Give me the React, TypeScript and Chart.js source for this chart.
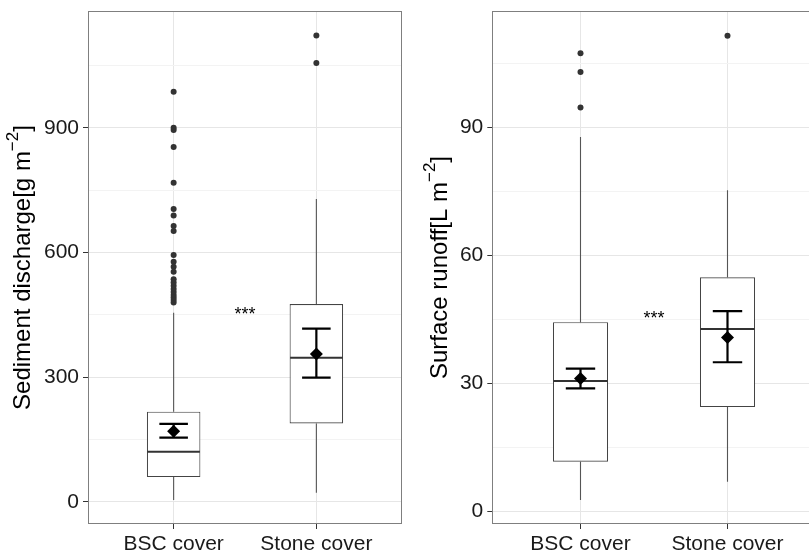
import React, { useEffect, useRef } from "react";
import { Chart, registerables } from "chart.js";

Chart.register(...registerables);

const FONT = "'Liberation Sans', Arial, Helvetica, sans-serif";

const categories = ["BSC cover", "Stone cover"];
const categoryPositions = [1, 2];

// Panel 1: sediment discharge
const sedLowerWhisker = [5, 22];
const sedQ1 = [60, 189];
const sedMedian = [121, 347];
const sedQ3 = [217, 476];
const sedUpperWhisker = [455, 729];
const sedMean = [170, 356];
const sedErrLow = [155, 299];
const sedErrHigh = [188, 417];
const sedOutliersBSC = [480, 486, 492, 498, 505, 512, 520, 528, 536, 554, 566, 578, 594, 652, 664, 689, 705, 768, 854, 895, 900, 987];
const sedOutliersStone = [1056, 1122];
const sedMajorTicks = [0, 300, 600, 900];
const sedMinorTicks = [150, 450, 750, 1050];
const sedRange = [-53, 1181];
const sedSignif = 455;

// Panel 2: surface runoff
const runLowerWhisker = [2.6, 6.9];
const runQ1 = [11.6, 24.4];
const runMedian = [30.5, 42.7];
const runQ3 = [44.3, 54.8];
const runUpperWhisker = [87.7, 75.2];
const runMean = [31.1, 40.7];
const runErrLow = [28.8, 34.9];
const runErrHigh = [33.4, 46.9];
const runOutliersBSC = [94.6, 102.9, 107.3];
const runOutliersStone = [111.4];
const runMajorTicks = [0, 30, 60, 90];
const runMinorTicks = [15, 45, 75, 105];
const runRange = [-3.0, 117.2];
const runSignif = 45.6;

type Panel = {
  lower: number[];
  q1: number[];
  median: number[];
  q3: number[];
  upper: number[];
  mean: number[];
  errLow: number[];
  errHigh: number[];
  outliers: number[][];
  major: number[];
  minor: number[];
  range: number[];
  signif: number;
  title: string;
  yAxisWidth: number;
  rightPad: number;
  titleX: number;
};

const sedPanel: Panel = {
  lower: sedLowerWhisker,
  q1: sedQ1,
  median: sedMedian,
  q3: sedQ3,
  upper: sedUpperWhisker,
  mean: sedMean,
  errLow: sedErrLow,
  errHigh: sedErrHigh,
  outliers: [sedOutliersBSC, sedOutliersStone],
  major: sedMajorTicks,
  minor: sedMinorTicks,
  range: sedRange,
  signif: sedSignif,
  title: "Sediment discharge[g m",
  yAxisWidth: 88,
  rightPad: 3,
  titleX: 23,
};

const runPanel: Panel = {
  lower: runLowerWhisker,
  q1: runQ1,
  median: runMedian,
  q3: runQ3,
  upper: runUpperWhisker,
  mean: runMean,
  errLow: runErrLow,
  errHigh: runErrHigh,
  outliers: [runOutliersBSC, runOutliersStone],
  major: runMajorTicks,
  minor: runMinorTicks,
  range: runRange,
  signif: runSignif,
  title: "Surface runoff[L m",
  yAxisWidth: 87.3,
  rightPad: 14.3,
  titleX: 35,
};

const BOX_WIDTH = 0.375;
const ERR_WIDTH = 0.2;

function makePlugin(p: Panel) {
  return {
    id: "boxExtras",
    beforeDatasetsDraw(chart: any) {
      const { ctx, scales } = chart;
      const x = scales.x;
      const y = scales.y;
      ctx.save();
      ctx.strokeStyle = "#555555";
      ctx.lineWidth = 1.1;
      categoryPositions.forEach((c, i) => {
        const px = x.getPixelForValue(c);
        ctx.beginPath();
        ctx.moveTo(px, y.getPixelForValue(p.q3[i]));
        ctx.lineTo(px, y.getPixelForValue(p.upper[i]));
        ctx.moveTo(px, y.getPixelForValue(p.q1[i]));
        ctx.lineTo(px, y.getPixelForValue(p.lower[i]));
        ctx.stroke();
      });
      ctx.restore();
    },
    afterDatasetDraw(chart: any, args: any) {
      if (args.meta.type !== "bar") return;
      const { ctx, scales } = chart;
      const x = scales.x;
      const y = scales.y;
      ctx.save();
      categoryPositions.forEach((c, i) => {
        const l = x.getPixelForValue(c - BOX_WIDTH / 2);
        const r = x.getPixelForValue(c + BOX_WIDTH / 2);
        ctx.strokeStyle = "#333333";
        ctx.lineWidth = 2;
        ctx.beginPath();
        const my = y.getPixelForValue(p.median[i]);
        ctx.moveTo(l + 0.5, my);
        ctx.lineTo(r - 0.5, my);
        ctx.stroke();
        const px = x.getPixelForValue(c);
        const el = x.getPixelForValue(c - ERR_WIDTH / 2);
        const er = x.getPixelForValue(c + ERR_WIDTH / 2);
        const yl = y.getPixelForValue(p.errLow[i]);
        const yh = y.getPixelForValue(p.errHigh[i]);
        ctx.strokeStyle = "#000000";
        ctx.lineWidth = 2.2;
        ctx.beginPath();
        ctx.moveTo(el, yh);
        ctx.lineTo(er, yh);
        ctx.moveTo(px, yh);
        ctx.lineTo(px, yl);
        ctx.moveTo(el, yl);
        ctx.lineTo(er, yl);
        ctx.stroke();
      });
      ctx.restore();
    },
    afterDraw(chart: any) {
      const { ctx, chartArea, scales } = chart;
      const x = scales.x;
      const y = scales.y;
      ctx.save();
      ctx.strokeStyle = "#7f7f7f";
      ctx.lineWidth = 1;
      ctx.strokeRect(
        Math.round(chartArea.left) + 0.5,
        Math.round(chartArea.top) + 0.5,
        Math.round(chartArea.right - chartArea.left) - 1,
        Math.round(chartArea.bottom - chartArea.top) - 1
      );
      ctx.fillStyle = "#000000";
      ctx.font = `18px ${FONT}`;
      ctx.textAlign = "center";
      ctx.textBaseline = "alphabetic";
      ctx.fillText("***", x.getPixelForValue(1.5), y.getPixelForValue(p.signif) + 7.5);
      const cy = (chartArea.top + chartArea.bottom) / 2;
      ctx.translate(p.titleX, cy);
      ctx.rotate(-Math.PI / 2);
      const mainFont = `24px ${FONT}`;
      const supFont = `17px ${FONT}`;
      ctx.font = mainFont;
      const wMain = ctx.measureText(p.title).width;
      const wClose = ctx.measureText("]").width;
      ctx.font = supFont;
      const sup = "\u22122";
      const wSup = ctx.measureText(sup).width;
      const total = wMain + wSup + wClose;
      let sx = -total / 2;
      ctx.textAlign = "left";
      ctx.textBaseline = "middle";
      ctx.font = mainFont;
      ctx.fillText(p.title, sx, 0);
      sx += wMain;
      ctx.font = supFont;
      ctx.fillText(sup, sx, -10);
      sx += wSup;
      ctx.font = mainFont;
      ctx.fillText("]", sx, 0);
      ctx.restore();
    },
  };
}

function makeConfig(p: Panel): any {
  const allTicks = [...p.major, ...p.minor].sort((a, b) => a - b);
  const outlierPoints: { x: number; y: number }[] = [];
  p.outliers.forEach((arr, i) => arr.forEach((v) => outlierPoints.push({ x: categoryPositions[i], y: v })));
  return {
    type: "bar",
    data: {
      datasets: [
        {
          type: "bar",
          data: categoryPositions.map((c, i) => ({ x: c, y: [p.q1[i], p.q3[i]] })),
          backgroundColor: "#ffffff",
          borderColor: "#444444",
          borderWidth: 1.1,
          borderSkipped: false,
          barPercentage: BOX_WIDTH,
          categoryPercentage: 1,
          order: 3,
        },
        {
          type: "scatter",
          data: outlierPoints,
          pointRadius: 3,
          pointBackgroundColor: "#333333",
          pointBorderWidth: 0,
          order: 2,
        },
        {
          type: "scatter",
          data: categoryPositions.map((c, i) => ({ x: c, y: p.mean[i] })),
          pointStyle: "rectRot",
          pointRadius: 6.5,
          pointBackgroundColor: "#000000",
          pointBorderWidth: 0,
          order: 1,
        },
      ],
    },
    options: {
      animation: false,
      responsive: false,
      maintainAspectRatio: false,
      events: [],
      layout: { autoPadding: false, padding: { left: 0, top: 11, right: p.rightPad, bottom: 0 } },
      plugins: { legend: { display: false }, tooltip: { enabled: false }, title: { display: false } },
      scales: {
        x: {
          type: "linear",
          min: 0.4,
          max: 2.6,
          offset: false,
          afterBuildTicks: (s: any) => {
            s.ticks = categoryPositions.map((v) => ({ value: v }));
          },
          afterFit: (s: any) => {
            s.height = 32;
            s.paddingLeft = 0;
            s.paddingRight = 0;
          },
          ticks: {
            autoSkip: false,
            maxRotation: 0,
            padding: 3,
            color: "#1a1a1a",
            font: { size: 21, family: FONT },
            callback: (v: number) => {
              const idx = categoryPositions.indexOf(v);
              return idx >= 0 ? categories[idx] : "";
            },
          },
          grid: { color: "#e6e6e6", lineWidth: 1, tickColor: "#333333", tickLength: 5, offset: false },
          border: { display: false },
        },
        y: {
          type: "linear",
          min: p.range[0],
          max: p.range[1],
          beginAtZero: false,
          afterBuildTicks: (s: any) => {
            s.ticks = allTicks.map((v) => ({ value: v }));
          },
          afterFit: (s: any) => {
            s.width = p.yAxisWidth;
            s.paddingTop = 0;
            s.paddingBottom = 0;
          },
          ticks: {
            autoSkip: false,
            padding: 4,
            color: "#1a1a1a",
            font: { size: 21, family: FONT },
            callback: (v: number) => (p.major.includes(v) ? String(v) : ""),
          },
          grid: {
            color: (ctx: any) => (ctx.tick && p.major.includes(ctx.tick.value) ? "#e6e6e6" : "#f3f3f3"),
            lineWidth: 1,
            tickColor: (ctx: any) => (ctx.tick && p.major.includes(ctx.tick.value) ? "#333333" : "rgba(0,0,0,0)"),
            tickLength: 5,
          },
          border: { display: false },
        },
      },
    },
    plugins: [makePlugin(p)],
  };
}

export default function App() {
  const leftRef = useRef<HTMLCanvasElement>(null);
  const rightRef = useRef<HTMLCanvasElement>(null);

  useEffect(() => {
    const c1 = new Chart(leftRef.current as HTMLCanvasElement, makeConfig(sedPanel));
    const c2 = new Chart(rightRef.current as HTMLCanvasElement, makeConfig(runPanel));
    return () => {
      c1.destroy();
      c2.destroy();
    };
  }, []);

  return (
    <div
      style={{
        position: "fixed",
        left: 0,
        top: 0,
        width: 809,
        height: 556,
        overflow: "hidden",
        background: "#ffffff",
      }}
    >
      <canvas
        ref={leftRef}
        width={405}
        height={556}
        style={{ position: "absolute", left: 0, top: 0, width: 405, height: 556 }}
      />
      <canvas
        ref={rightRef}
        width={425}
        height={556}
        style={{ position: "absolute", left: 405, top: 0, width: 425, height: 556 }}
      />
    </div>
  );
}
